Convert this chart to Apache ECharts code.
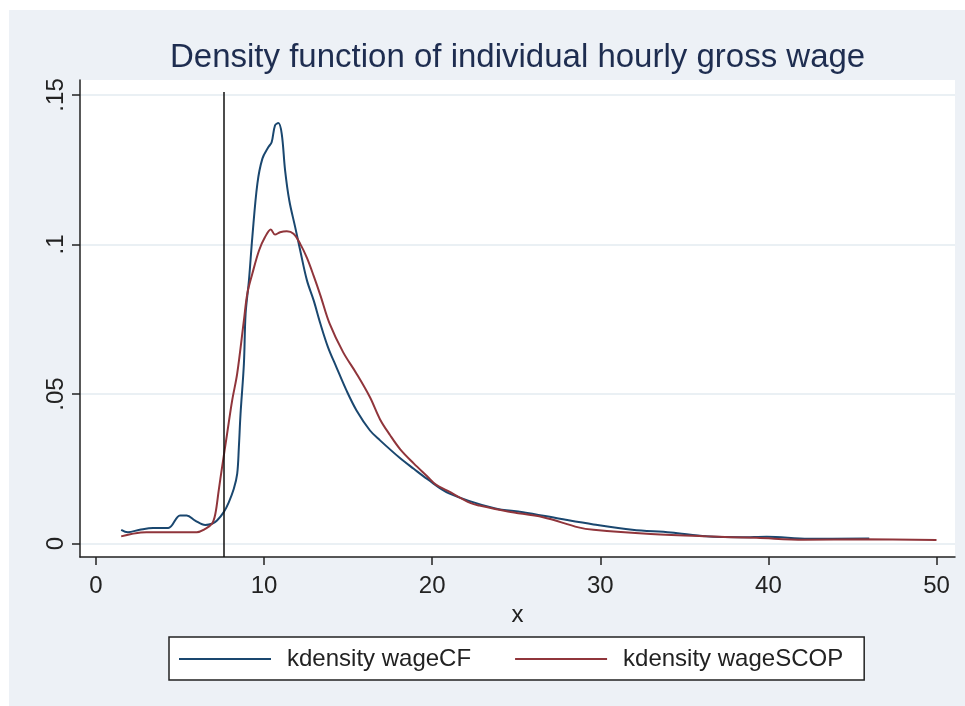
<!DOCTYPE html>
<html>
<head>
<meta charset="utf-8">
<script src="https://cdn.jsdelivr.net/npm/echarts@6/dist/echarts.min.js"></script>
<style>
  html, body { margin: 0; padding: 0; background: #fff; }
  #chart { width: 965px; height: 706px; }
</style>
</head>
<body>
<div id="chart"></div>
<script>
// kdensity wageCF
const cfX = [1.5, 1.9, 2.6, 3.4, 4.3, 5.0, 5.4, 5.9, 6.5, 6.9, 7.2, 7.6, 7.9, 8.2, 8.4, 8.5, 8.6, 8.8, 8.9, 9.1,
  9.3, 9.6, 9.9, 10.25, 10.45, 10.65, 10.85, 11.05, 11.25, 11.5, 11.85, 12.15, 12.55, 12.95, 13.35, 13.8, 14.3, 14.9, 15.5, 16.3,
  16.9, 18.1, 18.9, 19.7, 21.0, 23.7, 25.4, 27.6, 29.6, 31.9, 34.2, 36.3, 38.4, 39.9, 42.4, 46.0]
const cfY = [0.0046, 0.0038, 0.0046, 0.0052, 0.0052, 0.0094, 0.0094, 0.0077, 0.0062, 0.0066, 0.0077, 0.0105, 0.0138, 0.0183, 0.0233, 0.0322, 0.0434, 0.0601, 0.0768, 0.088,
  0.1024, 0.1203, 0.1287, 0.1325, 0.1342, 0.1398, 0.1406, 0.137, 0.1248, 0.1147, 0.1058, 0.098, 0.088, 0.0813, 0.0735, 0.0657, 0.059, 0.0512, 0.0445, 0.0378,
  0.0345, 0.0285, 0.025, 0.0216, 0.0168, 0.0118, 0.0105, 0.0083, 0.0064, 0.0046, 0.0037, 0.0024, 0.0021, 0.0023, 0.0016, 0.0017]

// kdensity wageSCOP
const scX = [1.5, 2.1, 3.0, 4.2, 6.0, 6.5, 6.9, 7.1, 7.3, 7.5, 7.8, 8.1, 8.4, 8.8, 9.0, 9.3, 9.7, 10.05, 10.4, 10.65,
  10.95, 11.35, 11.75, 12.15, 12.55, 12.95, 13.35, 13.9, 14.7, 15.5, 16.3, 16.9, 17.5, 18.1, 18.9, 19.7, 20.2, 20.9, 22.3, 22.8,
  24.5, 26.6, 28.7, 29.6, 33.0, 36.3, 39.3, 42.1, 45.7, 50.0]
const scY = [0.0024, 0.0032, 0.0038, 0.0038, 0.0038, 0.0049, 0.0066, 0.0099, 0.0177, 0.0255, 0.0367, 0.0478, 0.0568, 0.0746, 0.0835, 0.0902, 0.098, 0.1024, 0.105, 0.1033,
  0.1041, 0.1044, 0.1036, 0.1002, 0.0955, 0.0895, 0.083, 0.0735, 0.064, 0.0568, 0.0489, 0.0415, 0.0362, 0.0315, 0.0268, 0.0225, 0.0198, 0.0177, 0.0135, 0.0127,
  0.0107, 0.0088, 0.0054, 0.0046, 0.0032, 0.0024, 0.0019, 0.0013, 0.0014, 0.0012]

const xTicks = [0, 10, 20, 30, 40, 50]
const yTicks = [0, 0.05, 0.1, 0.15]
const xLine = 7.6 // vertical reference line
const seriesNames = ['kdensity wageCF', 'kdensity wageSCOP']

const font = 'Liberation Sans, Arial, sans-serif'
const zip = (xs, ys) => xs.map((x, i) => [x, ys[i]])

const chart = echarts.init(document.getElementById('chart'), null, {renderer: 'canvas'})

const option = {
  backgroundColor: '#fff',
  animation: false,
  graphic: [
    {
      type: 'rect',
      z: -100,
      silent: true,
      shape: {x: 9, y: 10, width: 956, height: 696},
      style: {fill: '#edf1f6'}
    }
  ],
  title: {
    text: 'Density function of individual hourly gross wage',
    left: 165,
    top: 36,
    textStyle: {fontFamily: font, fontSize: 33, fontWeight: 'normal', color: '#1e2d50'}
  },
  legend: {
    left: 169,
    top: 637,
    orient: 'horizontal',
    icon: 'rect',
    itemWidth: 92,
    itemHeight: 2,
    itemGap: 44,
    padding: [10, 21, 9, 10],
    borderColor: '#222',
    borderWidth: 1.5,
    borderRadius: 0,
    backgroundColor: '#fff',
    textStyle: {fontFamily: font, fontSize: 24, color: '#222', lineHeight: 24, padding: [0, 0, 0, 11]},
    data: seriesNames
  },
  grid: {
    left: 80,
    right: 10,
    top: 80,
    bottom: 149,
    show: true,
    backgroundColor: '#fff',
    borderWidth: 0
  },
  xAxis: {
    type: 'value',
    min: -0.95,
    max: 51.1,
    name: 'x',
    nameLocation: 'middle',
    nameGap: 36,
    nameTextStyle: {fontFamily: font, fontSize: 24, color: '#222'},
    axisLine: {show: true, onZero: false, lineStyle: {color: '#222', width: 1.5}},
    axisTick: {show: true, length: 8, customValues: xTicks, lineStyle: {color: '#222', width: 1.5}},
    axisLabel: {fontFamily: font, fontSize: 24, color: '#222', margin: 17, customValues: xTicks},
    splitLine: {show: false}
  },
  yAxis: {
    type: 'value',
    min: -0.0045,
    max: 0.155,
    axisLine: {show: true, onZero: false, lineStyle: {color: '#222', width: 1.5}},
    axisTick: {show: true, length: 8, customValues: yTicks, lineStyle: {color: '#222', width: 1.5}},
    axisLabel: {
      fontFamily: font, fontSize: 24, color: '#222', margin: 12, rotate: 90, customValues: yTicks,
      formatter: v => v === 0 ? '0' : String(v).replace(/^0/, '')
    },
    splitLine: {show: true, lineStyle: {color: '#eaf0f4', width: 2}}
  },
  series: [
    {
      name: seriesNames[0],
      type: 'line',
      data: zip(cfX, cfY),
      symbol: 'none',
      smooth: 0.35,
      color: '#1a476f',
      lineStyle: {color: '#1a476f', width: 2},
      markLine: {
        silent: true,
        symbol: 'none',
        label: {show: false},
        lineStyle: {color: '#111', width: 1.5, type: 'solid'},
        data: [[{coord: [xLine, -0.0045]}, {coord: [xLine, 0.151]}]]
      }
    },
    {
      name: seriesNames[1],
      type: 'line',
      data: zip(scX, scY),
      symbol: 'none',
      smooth: 0.35,
      color: '#90353b',
      lineStyle: {color: '#90353b', width: 2}
    }
  ]
}

chart.setOption(option)
</script>
</body>
</html>
